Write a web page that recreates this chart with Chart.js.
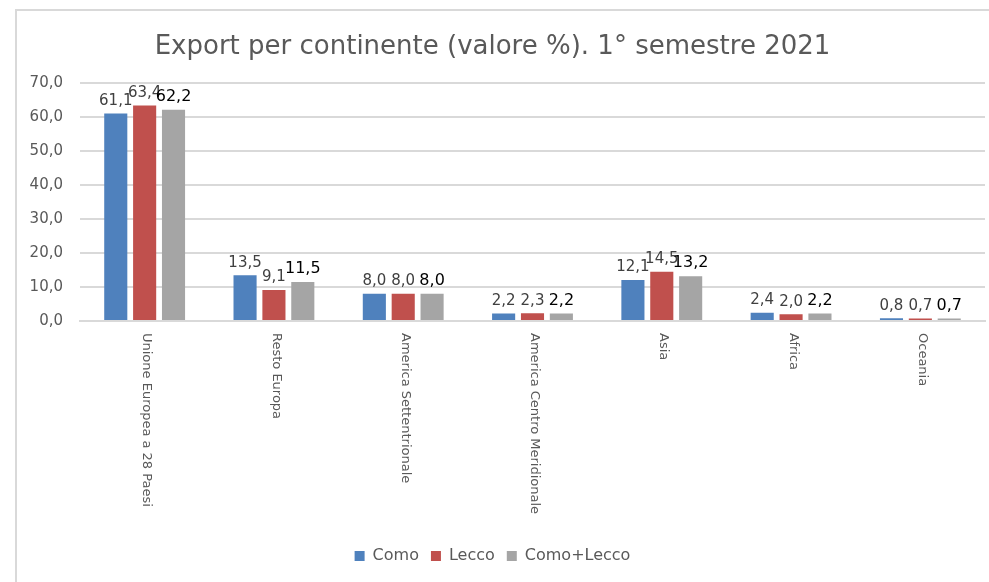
<!DOCTYPE html>
<html>
<head>
<meta charset="utf-8">
<script src="https://cdn.jsdelivr.net/npm/chart.js@4/dist/chart.umd.min.js"></script>
<style>
  html, body { margin: 0; background: #fff; overflow: hidden; }
  #wrap { position: absolute; left: 0; top: 0; width: 989px; height: 582px; }
</style>
</head>
<body>
<div id="wrap"><canvas id="myChart"></canvas></div>
<script>
// Export per continente, valori % del 1° semestre 2021
const continents = ['Unione Europea a 28 Paesi', 'Resto Europa', 'America Settentrionale',
  'America Centro Meridionale', 'Asia', 'Africa', 'Oceania'];
const como = [61.1, 13.5, 8.0, 2.2, 12.1, 2.4, 0.8];
const lecco = [63.4, 9.1, 8.0, 2.3, 14.5, 2.0, 0.7];
const comoLecco = [62.2, 11.5, 8.0, 2.2, 13.2, 2.2, 0.7];

const grey = '#595959';
const fmt = v => v.toFixed(1).replace('.', ',');

// light frame on the left and top, like the cropped Excel chart box
const frame = {
  id: 'frame',
  beforeDraw(chart) {
    const ctx = chart.ctx;
    ctx.save();
    ctx.strokeStyle = '#d9d9d9';
    ctx.lineWidth = 2;
    ctx.beginPath();
    ctx.moveTo(16, chart.height);
    ctx.lineTo(16, 10);
    ctx.lineTo(chart.width, 10);
    ctx.stroke();
    ctx.restore();
  }
};

// value labels above each bar (no datalabels plugin available)
const valueLabels = {
  id: 'valueLabels',
  afterDatasetsDraw(chart) {
    const ctx = chart.ctx;
    ctx.save();
    ctx.textAlign = 'center';
    ctx.textBaseline = 'bottom';
    chart.data.datasets.forEach((ds, i) => {
      const meta = chart.getDatasetMeta(i);
      ctx.fillStyle = i == 2 ? '#000' : '#404040';
      ctx.font = (i == 2 ? '16px' : '15px') + ' "DejaVu Sans"';
      meta.data.forEach((bar, j) => {
        ctx.fillText(fmt(ds.data[j]), bar.x, bar.y - 5);
      });
    });
    ctx.restore();
  }
};

// category labels rotated clockwise, reading top to bottom
const verticalLabels = {
  id: 'verticalLabels',
  afterDraw(chart) {
    const ctx = chart.ctx;
    const x = chart.scales.x;
    ctx.save();
    ctx.fillStyle = grey;
    ctx.font = '13px "DejaVu Sans"';
    ctx.textAlign = 'left';
    ctx.textBaseline = 'middle';
    continents.forEach((lab, i) => {
      ctx.save();
      ctx.translate(x.getPixelForValue(i) + 2, x.top + 12);
      ctx.rotate(Math.PI / 2);
      ctx.fillText(lab, 0, 0);
      ctx.restore();
    });
    ctx.restore();
  }
};

const chart = new Chart(document.getElementById('myChart'), {
  type: 'bar',
  data: {
    labels: continents,
    datasets: [
      { label: 'Como', data: como, backgroundColor: '#4f81bd' },
      { label: 'Lecco', data: lecco, backgroundColor: '#c0504d' },
      { label: 'Como+Lecco', data: comoLecco, backgroundColor: '#a5a5a5' }
    ]
  },
  options: {
    responsive: true,
    maintainAspectRatio: false,
    animation: false,
    categoryPercentage: 0.67,
    barPercentage: 0.8,
    layout: { padding: { left: 0, right: 4, top: 0, bottom: 8 } },
    plugins: {
      title: {
        display: true,
        text: 'Export per continente (valore %). 1° semestre 2021',
        color: grey,
        font: { family: 'DejaVu Sans', size: 26, weight: 'normal' },
        padding: { top: 32, bottom: 20 }
      },
      legend: {
        position: 'bottom',
        labels: {
          color: grey,
          font: { family: 'DejaVu Sans', size: 16 },
          boxWidth: 10,
          boxHeight: 10,
          padding: 12
        }
      },
      tooltip: { enabled: false }
    },
    scales: {
      x: {
        grid: { display: false },
        border: { color: '#d9d9d9', width: 2 },
        ticks: { display: false },
        afterFit(scale) { scale.height = 215; }
      },
      y: {
        min: 0,
        max: 70,
        grid: { color: '#d9d9d9', lineWidth: 2, drawTicks: false },
        border: { display: false },
        ticks: {
          stepSize: 10,
          padding: 17,
          color: grey,
          font: { family: 'DejaVu Sans', size: 15 },
          callback: v => fmt(v)
        },
        afterFit(scale) { scale.width = 80; }
      }
    }
  },
  plugins: [frame, valueLabels, verticalLabels]
});
</script>
</body>
</html>
